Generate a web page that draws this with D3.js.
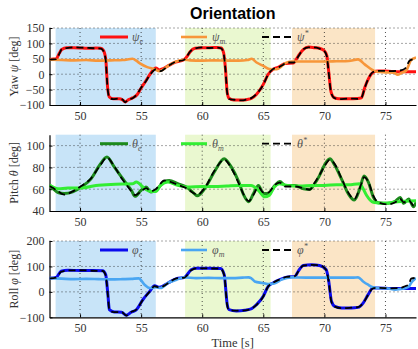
<!DOCTYPE html>
<html>
<head>
<meta charset="utf-8">
<script src="https://cdn.jsdelivr.net/npm/d3@7"></script>
<style>
  body { margin: 0; background: #fff; }
  svg { display: block; }
</style>
</head>
<body>
<div id="chart"></div>
<script>
// time axis
const xTicks = [50, 55, 60, 65, 70, 75];
const phases = [
  {from: 48.0, to: 56.2, color: "#c8e4f8"},
  {from: 58.6, to: 65.6, color: "#eaf8d0"},
  {from: 67.35, to: 74.15, color: "#fbe5c6"}
];

// yaw [deg]
const yawEst = [[47.5,48],[48.05,50],[48.3,68],[48.5,80],[48.9,86],[49.5,86],[50.2,85],[50.8,84],[51.3,85],[51.7,84],[51.9,78],[52.1,50],[52.25,-40],[52.4,-74],[52.7,-80],[53.2,-80],[53.5,-84],[53.7,-90],[53.95,-83],[54.3,-77],[54.7,-65],[55.0,-45],[55.3,-27],[55.8,4],[56.2,20],[56.5,14],[56.8,18],[57.2,27],[57.8,39],[58.5,47],[58.8,60],[59.0,72],[59.4,84],[60,86],[60.6,86],[61.2,87],[61.55,85],[61.75,70],[61.9,20],[62.05,-60],[62.2,-78],[62.6,-84],[63.2,-84],[63.7,-82],[64.05,-78],[64.45,-65],[65.0,-33],[65.4,0],[65.8,16],[66.2,22],[66.8,35],[67.45,36],[67.86,59],[68.27,80],[68.7,88],[69.2,86],[69.6,84],[70.0,76],[70.2,60],[70.35,10],[70.55,-58],[70.8,-76],[71.2,-80],[72.0,-80],[72.7,-79],[73.03,-77],[73.3,-44],[73.58,-17],[73.98,6],[74.4,10],[75,10],[76,8],[77.5,8]];
const yawMeas = [[47.5,47],[48.5,46],[49.5,45],[50.5,46],[51.5,44],[52.5,45],[53.5,46],[54.3,50],[54.6,44],[54.9,35],[55.5,23],[56.1,16],[56.5,10],[56.8,15],[57.2,27],[57.8,40],[58.5,47],[59,45],[60,44],[61,45],[62,44],[63,44],[63.7,46],[64.05,50],[64.45,38],[65,27],[65.5,17],[66.1,16],[66.5,26],[66.8,36],[67.3,41],[68,41],[69,41],[70,41],[71,42],[72,43],[72.76,48],[73.3,32],[73.85,16],[74.3,8],[75,6],[75.7,5],[76.0,-2],[76.3,4],[76.7,12],[77.1,46],[77.5,54]];
const yawRef = [[47.5,47],[48.05,49],[48.3,66],[48.5,81],[48.9,85],[49.5,87],[50.2,86],[50.8,85],[51.3,84],[51.7,83],[51.9,76],[52.1,46],[52.25,-44],[52.4,-76],[52.7,-81],[53.2,-79],[53.5,-83],[53.7,-91],[53.95,-82],[54.3,-78],[54.7,-63],[55.0,-44],[55.3,-28],[55.8,2],[56.2,16],[56.6,10],[56.9,17],[57.2,26],[57.8,40],[58.5,46],[58.8,61],[59.0,73],[59.4,83],[60,87],[60.6,85],[61.2,86],[61.55,84],[61.75,68],[61.9,16],[62.05,-62],[62.2,-80],[62.6,-83],[63.2,-85],[63.7,-81],[64.05,-77],[64.45,-64],[65.0,-34],[65.4,-1],[65.8,17],[66.2,21],[66.6,30],[66.9,38],[67.5,38],[67.9,60],[68.27,81],[68.7,87],[69.2,87],[69.6,83],[70.0,75],[70.2,58],[70.35,6],[70.55,-60],[70.8,-77],[71.2,-81],[72.0,-79],[72.7,-80],[73.03,-76],[73.3,-45],[73.58,-16],[73.98,7],[74.4,11],[75.5,10],[76.2,12],[76.6,18],[77.0,45],[77.5,50]];

// pitch [deg]
const pitchEst = [[47.5,64],[47.8,60.5],[48.2,57],[48.7,56],[49.4,57.5],[50.1,62],[50.9,69.5],[51.6,82],[52.2,89.5],[52.8,80.5],[53.4,71],[53.8,65],[54.2,59],[54.5,53.5],[55,59],[55.4,62],[55.8,57.5],[56.2,59],[56.9,67],[57.3,68],[58,65],[58.7,62],[59.2,57.5],[59.6,54],[60.2,60.5],[61,76],[61.8,88],[62.4,80],[63,66.5],[63.4,54.5],[63.8,48.5],[64.2,56],[64.6,63.5],[65,56],[65.4,56],[65.95,63.5],[66.35,67],[66.8,63.5],[67.6,63.5],[68.3,60.5],[68.8,60],[69.2,65],[69.6,72.5],[70.0,82],[70.45,88],[70.85,82],[71.4,69.5],[71.95,56],[72.45,50],[72.9,60.5],[73.25,72],[73.6,66.5],[74,53],[74.4,47.5],[75.2,47],[75.8,49],[76.2,52.5],[76.5,47],[76.9,51],[77.3,44],[77.5,48]];
const pitchMeas = [[47.5,63.5],[48.2,60.5],[49,61],[50,61],[51.3,63.5],[52.9,64.5],[54.3,65],[54.6,66.5],[55.3,60.5],[55.8,58],[56.2,58],[56.6,63.5],[57.2,66.5],[58,63.5],[58.8,62],[60,62.5],[61,62.5],[62,63],[63,63.5],[64,63.5],[64.6,59],[65.1,53],[65.5,54.5],[65.9,62],[66.3,65],[67,63.5],[68,63],[69,63.5],[70,63.5],[71,64],[72,64],[72.86,65],[73.1,62],[73.45,54.5],[74,48],[74.8,47],[76,48.5],[77.5,49.5]];
const pitchRef = [[47.5,63],[47.8,61],[48.2,58],[48.7,55],[49.4,58],[50.1,63],[50.9,70],[51.6,81],[52.2,89],[52.8,81],[53.4,70],[53.8,64],[54.2,58],[54.5,54.5],[55,58],[55.4,61],[55.8,58],[56.2,60],[56.9,68],[57.3,67],[58,64],[58.7,61],[59.2,57],[59.6,55],[60.2,61],[61,77],[61.8,87],[62.4,79],[63,65],[63.4,55],[63.8,49],[64.2,55],[64.6,62],[65,57],[65.4,57],[65.95,64],[66.35,66],[66.8,62.5],[67.6,62.5],[68.3,61],[68.8,59.5],[69.2,66],[69.6,73],[70.0,81],[70.45,87],[70.85,83],[71.4,70],[71.95,57],[72.45,51],[72.9,61],[73.25,71],[73.6,67],[74,54],[74.4,48],[75.2,46],[75.8,48],[76.2,51],[76.5,48],[76.9,50],[77.3,45],[77.5,47]];

// roll [deg]
const rollEst = [[47.5,54],[48.05,57],[48.45,81],[49,85],[50,84],[51,84],[51.85,83],[52.1,68],[52.28,-11],[52.4,-70],[52.8,-79],[53.4,-80],[53.78,-92],[54.18,-80],[54.6,-71],[55.14,-31],[55.7,2],[56.1,24],[56.5,18],[57.2,35],[57.9,52],[58.55,57],[59.1,87],[59.5,93],[60.5,93],[61.5,92],[61.8,68],[62.05,-50],[62.2,-70],[62.8,-75],[63.5,-72],[64.05,-66],[64.45,-50],[65,-17],[65.4,22],[65.8,35],[66.35,48],[66.9,58],[67.6,61],[67.86,81],[68.27,104],[68.95,107],[69.6,104],[70.15,87],[70.36,41],[70.58,-37],[70.85,-57],[71.4,-63],[72.2,-63],[72.76,-61],[73.17,-44],[73.58,-11],[73.98,15],[74.4,15],[75.5,13],[76.5,13],[77.5,13]];
const rollMeas = [[47.5,54],[48.5,52],[49.5,50],[50.5,51],[51.5,50],[52.5,49],[53.5,50],[54.2,51],[54.8,53],[55.28,28],[55.7,15],[56.2,18],[56.6,15],[57.2,35],[57.9,48],[58.55,57],[59.5,54],[60.5,55],[61.5,54],[62.5,54],[63.3,56],[63.8,57],[64.0,54],[64.3,41],[64.9,35],[65.4,31],[65.9,33],[66.5,48],[67.3,57],[68.5,56],[69.5,56],[70.5,56],[71.5,56],[72.4,56],[72.76,57],[73.17,41],[73.58,28],[73.98,18],[74.4,15],[75.2,13],[75.8,9],[76.4,12],[76.9,20],[77.1,35],[77.5,54]];
const rollRef = [[47.5,53],[48.05,56],[48.45,79],[49,84],[50,85],[51,83],[51.85,82],[52.1,65],[52.28,-15],[52.4,-72],[52.8,-80],[53.4,-79],[53.78,-93],[54.18,-79],[54.6,-70],[55.14,-32],[55.7,1],[56.1,22],[56.5,17],[57.2,34],[57.9,53],[58.55,56],[59.1,85],[59.5,92],[60.5,92],[61.5,91],[61.8,66],[62.05,-54],[62.2,-72],[62.8,-74],[63.5,-73],[64.05,-65],[64.45,-51],[65,-18],[65.4,21],[65.8,36],[66.35,49],[66.9,59],[67.6,62],[67.86,80],[68.27,103],[68.95,106],[69.6,105],[70.15,86],[70.36,38],[70.58,-40],[70.85,-58],[71.4,-64],[72.2,-62],[72.76,-60],[73.17,-45],[73.58,-12],[73.98,14],[74.4,16],[75.5,14],[76.2,15],[76.6,22],[76.9,28],[77.1,52],[77.5,55]];

const panels = [
  {top: 28, bottom: 105, domain: [-100, 150], ticks: [-100, -50, 0, 50, 100, 150], label: "Yaw ", greek: "ψ",
   series: [
     {data: yawEst, color: "#ff1010", width: 3, sub: "e"},
     {data: yawMeas, color: "#f7963a", width: 2.6, sub: "m"},
     {data: yawRef, color: "#000", width: 1.8, dash: "7,4", sup: "*"}
   ]},
  {top: 134.7, bottom: 211, domain: [40, 110], ticks: [40, 60, 80, 100], label: "Pitch ", greek: "θ",
   series: [
     {data: pitchEst, color: "#1c8a1c", width: 3, sub: "e"},
     {data: pitchMeas, color: "#33ee33", width: 3, sub: "m"},
     {data: pitchRef, color: "#000", width: 1.8, dash: "7,4", sup: "*"}
   ]},
  {top: 241, bottom: 317.3, domain: [-100, 200], ticks: [-100, 0, 100, 200], label: "Roll ", greek: "φ",
   series: [
     {data: rollEst, color: "#0a0aee", width: 3, sub: "e"},
     {data: rollMeas, color: "#4aa6f2", width: 2.6, sub: "m"},
     {data: rollRef, color: "#000", width: 1.8, dash: "7,4", sup: "*"}
   ]}
];

const W = 418, H = 349;
const left = 49.5, right = 416;
const serif = "'Liberation Serif', 'DejaVu Serif', serif";

const svg = d3.select("#chart").append("svg")
  .attr("width", W)
  .attr("height", H);

const x = d3.scaleLinear().domain([47.5, 77.5]).range([left, right]);

svg.append("text")
  .attr("x", (left + right) / 2)
  .attr("y", 19)
  .attr("text-anchor", "middle")
  .style("font-family", "'Liberation Sans', Arial, sans-serif")
  .style("font-weight", "bold")
  .style("font-size", "16px")
  .text("Orientation");

const legendX = [[100, 128, 132], [181, 207, 212], [262, 292, 297]];

panels.forEach((p, pi) => {
  const y = d3.scaleLinear().domain(p.domain).range([p.bottom, p.top]);
  const g = svg.append("g");

  const clipId = "clip" + pi;
  svg.append("clipPath").attr("id", clipId)
    .append("rect")
    .attr("x", left).attr("y", p.top)
    .attr("width", right - left).attr("height", p.bottom - p.top);

  // shaded phases
  g.selectAll("rect.phase")
    .data(phases)
    .enter()
    .append("rect")
    .attr("x", d => x(d.from))
    .attr("y", p.top)
    .attr("width", d => x(d.to) - x(d.from))
    .attr("height", p.bottom - p.top)
    .attr("fill", d => d.color);

  // grid
  g.selectAll("line.gx")
    .data(xTicks)
    .enter()
    .append("line")
    .attr("x1", d => x(d)).attr("x2", d => x(d))
    .attr("y1", p.top).attr("y2", p.bottom)
    .attr("stroke", "#222")
    .attr("stroke-width", 0.8)
    .attr("stroke-dasharray", "1,3");
  g.selectAll("line.gy")
    .data(p.ticks.filter(t => t !== p.domain[0]))
    .enter()
    .append("line")
    .attr("x1", left).attr("x2", right)
    .attr("y1", d => y(d)).attr("y2", d => y(d))
    .attr("stroke", "#222")
    .attr("stroke-width", 0.8)
    .attr("stroke-dasharray", "1,3");

  // axes
  const ax = g.append("g")
    .attr("transform", "translate(0," + p.bottom + ")")
    .call(d3.axisBottom(x).tickValues(xTicks).tickSizeInner(-3).tickSizeOuter(0).tickPadding(6));
  const ay = g.append("g")
    .attr("transform", "translate(" + left + ",0)")
    .call(d3.axisLeft(y).tickValues(p.ticks).tickSizeInner(-3).tickSizeOuter(0).tickPadding(5));
  [ax, ay].forEach(a => {
    a.select(".domain").attr("stroke", "#000").attr("stroke-width", 1.2);
    a.selectAll("text")
      .style("font-family", serif)
      .style("font-size", "12px")
      .attr("fill", "#333");
  });

  // lines
  const line = d3.line()
    .x(d => x(d[0]))
    .y(d => y(d[1]))
    .curve(d3.curveMonotoneX);
  const lg = g.append("g").attr("clip-path", "url(#" + clipId + ")");
  p.series.forEach(s => {
    lg.append("path")
      .datum(s.data)
      .attr("d", line)
      .attr("fill", "none")
      .attr("stroke", s.color)
      .attr("stroke-width", s.width)
      .attr("stroke-linejoin", "round")
      .attr("stroke-dasharray", s.dash || null);
  });

  // legend
  const ly = p.top + 9;
  p.series.forEach((s, i) => {
    const [x1, x2, tx] = legendX[i];
    g.append("line")
      .attr("x1", x1).attr("x2", x2)
      .attr("y1", ly).attr("y2", ly)
      .attr("stroke", s.color)
      .attr("stroke-width", s.width)
      .attr("stroke-dasharray", s.dash || null);
    const t = g.append("text")
      .attr("x", tx)
      .attr("y", ly + 4)
      .attr("fill", "#555")
      .style("font-family", serif)
      .style("font-style", "italic")
      .style("font-size", "12px");
    t.append("tspan").text(p.greek);
    t.append("tspan")
      .attr("dy", s.sub ? 3 : -5)
      .style("font-size", "8px")
      .text(s.sub || s.sup);
  });

  // y label
  const yl = svg.append("text")
    .attr("transform", "translate(18," + ((p.top + p.bottom) / 2) + ") rotate(-90)")
    .attr("text-anchor", "middle")
    .attr("fill", "#333")
    .style("font-family", serif)
    .style("font-size", "12px");
  yl.append("tspan").text(p.label);
  yl.append("tspan").style("font-style", "italic").text(p.greek);
  yl.append("tspan").text(" [deg]");
});

svg.append("text")
  .attr("x", (left + right) / 2)
  .attr("y", 347)
  .attr("text-anchor", "middle")
  .attr("fill", "#333")
  .style("font-family", serif)
  .style("font-size", "12.5px")
  .text("Time [s]");
</script>
</body>
</html>
